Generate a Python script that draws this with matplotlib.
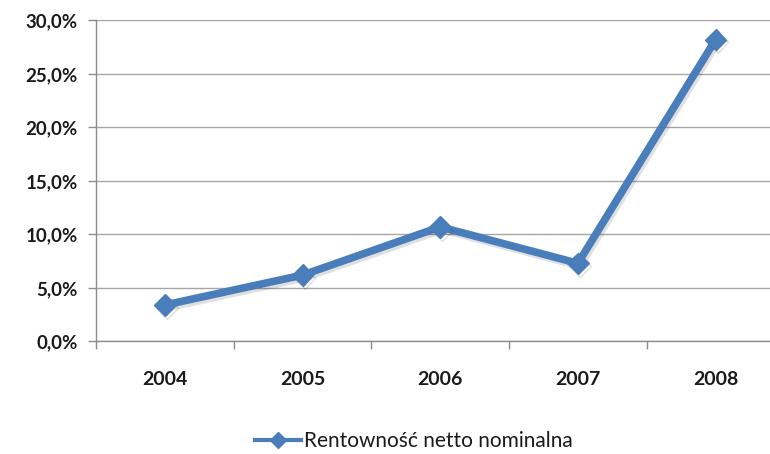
import matplotlib
matplotlib.use("Agg")
import matplotlib.pyplot as plt
import matplotlib.patheffects as pe
from matplotlib.lines import Line2D
import numpy as np
from matplotlib.ticker import FuncFormatter, FixedLocator

years = ["2004", "2005", "2006", "2007", "2008"]
values = [3.4, 6.2, 10.7, 7.3, 28.2]
series_name = "Rentowność netto nominalna"
yticks = [0, 5, 10, 15, 20, 25, 30]

plt.rcParams['font.family'] = ['Lato', 'DejaVu Sans']

fig = plt.figure(figsize=(7.7, 4.54), dpi=100)
ax = fig.add_axes([0.1247, 0.248, 0.894, 0.707])

color = "#4A7EBB"
x = np.arange(len(years))
ax.plot(x, values, color=color, linewidth=5.5, marker="D", markersize=11,
        markerfacecolor=color, markeredgecolor=color,
        solid_joinstyle="miter", zorder=3,
        path_effects=[pe.SimpleLineShadow(offset=(1.5, -2), alpha=0.12, shadow_color="black"), pe.Normal()])

ax.set_xlim(-0.5, len(years) - 0.5)
ax.set_ylim(0, 30)
ax.set_yticks(yticks)
ax.yaxis.set_major_formatter(FuncFormatter(lambda v, p: f"{v:.1f}%".replace(".", ",")))
ax.set_xticks(x)
ax.set_xticklabels(years)
ax.xaxis.set_minor_locator(FixedLocator(np.arange(-0.5, len(years), 1.0)))
ax.tick_params(axis="x", which="major", length=0, pad=21, labelsize=14)
ax.tick_params(axis="x", which="minor", length=6, color="#8C8C8C", width=1)
ax.tick_params(axis="y", which="major", length=6, color="#8C8C8C", width=1, pad=7, labelsize=13.5)
for lab in ax.get_xticklabels() + ax.get_yticklabels():
    lab.set_fontweight("bold")
    lab.set_color("#1a1a1a")

ax.grid(axis="y", color="#A6A6A6", linewidth=1)
ax.set_axisbelow(True)
for s in ["top", "right"]:
    ax.spines[s].set_visible(False)
for s in ["left", "bottom"]:
    ax.spines[s].set_color("#8C8C8C")
    ax.spines[s].set_linewidth(1)

handle = Line2D([], [], color=color, linewidth=3, marker="D", markersize=8,
                markerfacecolor=color, markeredgecolor=color)
leg = fig.legend(handles=[handle], labels=[series_name], loc="center", bbox_to_anchor=(0.538, 0.029),
                 frameon=False, fontsize=15, handlelength=2.2, handletextpad=0.15)
for t in leg.get_texts():
    t.set_color("#1a1a1a")

fig.savefig("out.png", dpi=100)
